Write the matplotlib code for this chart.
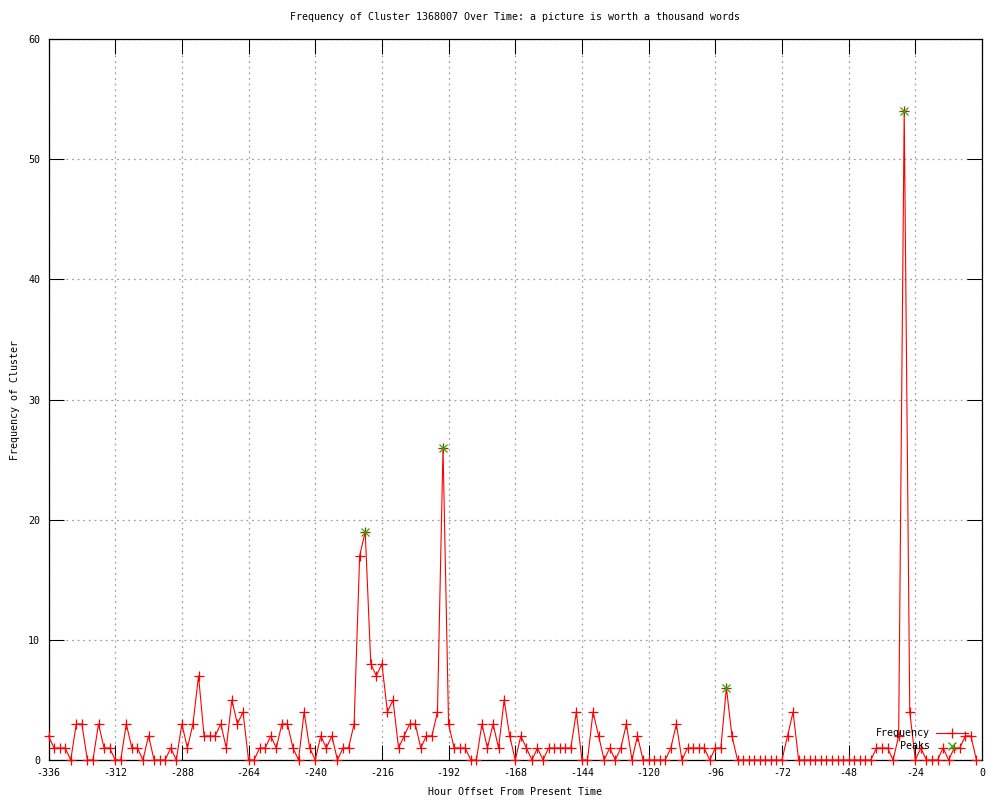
import numpy as np
import matplotlib
matplotlib.use('Agg')
import matplotlib.pyplot as plt

# hourly offsets (every 2 hours) and cluster counts
hours = np.arange(-336, 0, 2)
freq = [2, 1, 1, 1, 0, 3, 3, 0, 0, 3,
        1, 1, 0, 0, 3, 1, 1, 0, 2, 0,
        0, 0, 1, 0, 3, 1, 3, 7, 2, 2,
        2, 3, 1, 5, 3, 4, 0, 0, 1, 1,
        2, 1, 3, 3, 1, 0, 4, 1, 0, 2,
        1, 2, 0, 1, 1, 3, 17, 19, 8, 7,
        8, 4, 5, 1, 2, 3, 3, 1, 2, 2,
        4, 26, 3, 1, 1, 1, 0, 0, 3, 1,
        3, 1, 5, 2, 0, 2, 1, 0, 1, 0,
        1, 1, 1, 1, 1, 4, 0, 0, 4, 2,
        0, 1, 0, 1, 3, 0, 2, 0, 0, 0,
        0, 0, 1, 3, 0, 1, 1, 1, 1, 0,
        1, 1, 6, 2, 0, 0, 0, 0, 0, 0,
        0, 0, 0, 2, 4, 0, 0, 0, 0, 0,
        0, 0, 0, 0, 0, 0, 0, 0, 0, 1,
        1, 1, 0, 2, 54, 4, 0, 1, 0, 0,
        0, 1, 0, 1, 1, 2, 2, 0]

peak_hours = [-222, -194, -92, -28]
peak_vals = [19, 26, 6, 54]

xticks = list(range(-336, 1, 24))
yticks = list(range(0, 61, 10))

plt.rcParams['font.family'] = ['DejaVu Sans Mono']
plt.rcParams['axes.unicode_minus'] = False
fs = 7.2

fig = plt.figure(figsize=(10, 8), dpi=100)
ax = fig.add_axes([0.0485, 0.05, 0.9335, 0.90125])

ax.plot(hours, freq, color='#ff0000', lw=0.8, marker='+', ms=7, mew=0.9,
        label='Frequency', clip_on=False, zorder=3)
ax.plot(peak_hours, peak_vals, ls='none', color='#00c000', marker='x', ms=6,
        mew=0.9, label='Peaks', clip_on=False, zorder=4)

ax.set_xlim(-336, 0)
ax.set_ylim(0, 60)
ax.set_xticks(xticks)
ax.set_yticks(yticks)
ax.tick_params(direction='in', length=11, width=0.75, top=True, right=True,
               labelsize=fs, pad=6)
ax.grid(True, color='#a0a0a0', ls=(0, (1.5, 3)), lw=0.9)
for s in ax.spines.values():
    s.set_linewidth(0.9)

ax.set_title('Frequency of Cluster 1368007 Over Time: a picture is worth a thousand words',
             fontsize=fs, pad=14)
ax.set_xlabel('Hour Offset From Present Time', fontsize=fs, labelpad=6)
ax.set_ylabel('Frequency of Cluster', fontsize=fs, labelpad=6)

leg = ax.legend(loc='lower right', bbox_to_anchor=(0.9946, 0.0), frameon=False,
                fontsize=fs, markerfirst=False, handlelength=3.2,
                handletextpad=0.6, labelspacing=0.3, borderaxespad=0.5)

plt.savefig('out.png', dpi=100)
